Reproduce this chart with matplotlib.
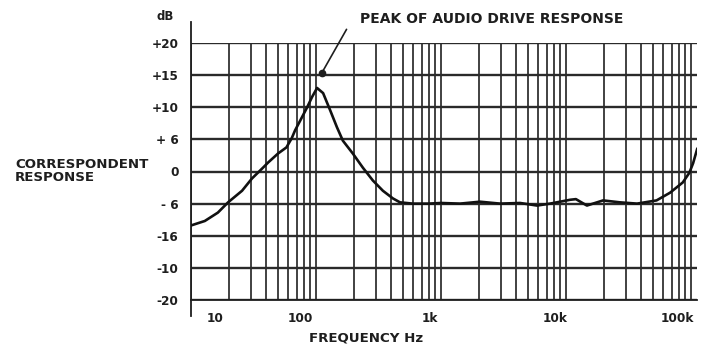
import numpy as np
import matplotlib
matplotlib.use("Agg")
import matplotlib.pyplot as plt
import matplotlib.transforms as mtransforms
from matplotlib.ticker import LogLocator, NullFormatter

# frequency response
freq_hz = [10, 12.9, 16.4, 19.8, 25.6, 30.7, 37.7, 41.4, 49.7, 58, 64, 68, 77, 85, 93,
           102, 114, 130, 147, 164, 197, 237, 285, 343, 413, 470, 595, 800, 1000,
           1420, 2050, 2970, 4290, 5860, 7450, 10800, 12000, 14700, 19800, 27000,
           37000, 53000, 68000, 86000, 97000, 104000, 112000]
resp_db = [-8.4, -7.7, -6.4, -4.8, -3.0, -1.1, 0.6, 1.4, 2.8, 3.75, 5.2, 6.4, 8.4, 10, 11.6,
           13.0, 12.2, 9.5, 6.9, 4.8, 2.8, 0.6, -1.4, -3.0, -4.2, -4.8, -5.0, -5.0, -4.9,
           -5.0, -4.7, -5.0, -4.9, -5.3, -5.0, -4.4, -4.3, -5.3, -4.5, -4.8,
           -5.0, -4.5, -3.3, -1.7, -0.2, 1.3, 3.5]

y_ticks = [20, 15, 10, 5, 0, -5, -10, -15, -20]
y_labels = ["+20", "+15", "+10", "+ 6", "0", "- 6", "-16", "-10", "-20"]
x_ticks = [10, 100, 1000, 10000, 100000]
x_labels = ["10", "100", "1k", "10k", "100k"]
x_label_shift_px = [24, -16, -11, -11, -14]

peak_point = (111, 15.3)
peak_text_pos = (180, 22.5)

ink = "#1e1e1e"
plt.rcParams['font.family'] = ['DejaVu Sans']
plt.rcParams['font.weight'] = 'bold'

fig = plt.figure(figsize=(7.06, 3.5), dpi=100)
ax = fig.add_axes([191/706, 1-300/350, 506/706, 257/350])

ax.plot(freq_hz, resp_db, color="#111111", lw=1.9, zorder=3)
ax.set_xscale("log")
ax.set_xlim(10, 10**(1 + 506/125))
ax.set_ylim(-20, 20)

ax.xaxis.set_major_locator(LogLocator(base=10, subs=(1.0,)))
ax.xaxis.set_minor_locator(LogLocator(base=10, subs=np.arange(2, 10)))
ax.xaxis.set_minor_formatter(NullFormatter())
ax.set_xticks(x_ticks)
ax.set_xticklabels(x_labels)
ax.set_yticks(y_ticks)
ax.set_yticklabels(y_labels)

ax.grid(which="both", axis="x", color="#333333", lw=1.3)
ax.grid(which="major", axis="y", color="#2a2a2a", lw=1.7)
ax.set_axisbelow(True)

ax.tick_params(axis="both", which="both", length=0, labelsize=8.7, colors=ink)
ax.tick_params(axis="x", pad=9)
ax.tick_params(axis="y", pad=9)

for lbl, dx in zip(ax.get_xticklabels(), x_label_shift_px):
    lbl.set_transform(lbl.get_transform() + mtransforms.ScaledTranslation(dx/100, 0, fig.dpi_scale_trans))

for side in ["top", "right"]:
    ax.spines[side].set_visible(False)
ax.spines["left"].set_bounds(-22.5, 23.3)
ax.spines["left"].set_color(ink)
ax.spines["left"].set_linewidth(1.3)
ax.spines["bottom"].set_color(ink)
ax.spines["bottom"].set_linewidth(1.3)

ax.annotate("", xy=peak_point, xytext=peak_text_pos,
            arrowprops=dict(arrowstyle="-", color=ink, lw=1.2), annotation_clip=False)
ax.plot(*peak_point, "o", color=ink, ms=4.5, zorder=4, clip_on=False)

fig.text(360/706, 1-19/350, "PEAK OF AUDIO DRIVE RESPONSE", fontsize=10,
         fontweight="bold", color=ink, va="center", ha="left")
fig.text(165/706, 1-17/350, "dB", fontsize=8.5, fontweight="bold", color=ink,
         va="center", ha="center")
fig.text(15/706, 1-171/350, "CORRESPONDENT\nRESPONSE", fontsize=9.6,
         fontweight="bold", color=ink, va="center", ha="left", linespacing=1.05)
fig.text(366/706, 1-338/350, "FREQUENCY Hz", fontsize=9.6, fontweight="bold",
         color=ink, va="center", ha="center")

fig.savefig("out.png", dpi=100)
